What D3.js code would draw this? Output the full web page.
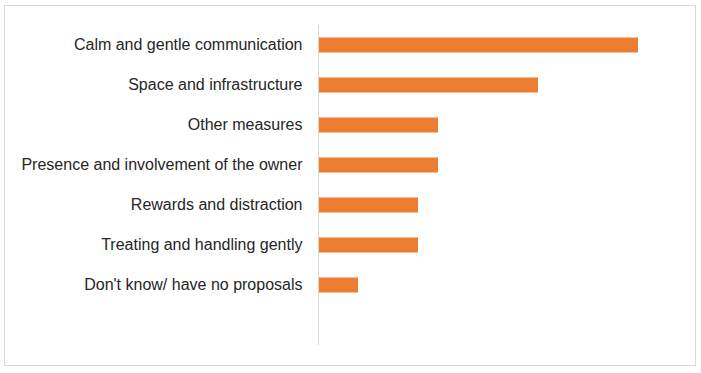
<!DOCTYPE html>
<html>
  <head>
    <script type="text/javascript" src="https://cdn.jsdelivr.net/npm/d3@7"></script>
    <style type="text/css">
      body { margin: 0; background: #ffffff; }
      text { font-family: "Liberation Sans", Arial, sans-serif; }
    </style>
  </head>
  <body>
    <script type="text/javascript">

      // categories, top to bottom
      var categories = ["Calm and gentle communication",
                        "Space and infrastructure",
                        "Other measures",
                        "Presence and involvement of the owner",
                        "Rewards and distraction",
                        "Treating and handling gently",
                        "Don't know/ have no proposals"];
      // bar lengths
      var values = [16, 11, 6, 6, 5, 5, 2];

      var width = 701;
      var height = 373;

      var pad = {top: 25, left: 318, bottom: 28};
      var step = 40;

      var svg = d3.select("body")
                  .append("svg")
                  .attr("width", width)
                  .attr("height", height);

      // outer chart border
      svg.append("rect")
         .attr("x", 4.5)
         .attr("y", 5.5)
         .attr("width", 691)
         .attr("height", 360)
         .attr("fill", "#ffffff")
         .attr("stroke", "#d9d9d9")
         .attr("stroke-width", 1);

      var xScale = d3.scaleLinear()
                     .domain([0, 16])
                     .range([pad.left, pad.left + 320]);

      // 7 bars in the top part, empty slot at the bottom like the original
      var yScale = d3.scaleBand()
                     .domain(categories)
                     .range([pad.top, pad.top + step * categories.length])
                     .paddingInner(0.625)
                     .paddingOuter(0.3125);

      svg.selectAll(".bar")
         .data(values)
         .enter()
         .append("rect")
         .attr("class", "bar")
         .attr("x", xScale(0))
         .attr("y", function(d, i){ return yScale(categories[i]); })
         .attr("width", function(d){ return xScale(d) - xScale(0); })
         .attr("height", yScale.bandwidth())
         .attr("fill", "#ed7d31");

      // category axis
      var yAxis = d3.axisLeft(yScale).tickSize(0).tickPadding(16);
      var gy = svg.append("g")
                  .attr("transform", "translate(" + (pad.left + 0.5) + ",0)")
                  .call(yAxis);
      gy.select(".domain").remove();
      gy.selectAll("text")
        .attr("fill", "#262626")
        .style("font-size", "16px")
        .style("font-family", "'Liberation Sans', Arial, sans-serif");

      // vertical axis line runs through the empty bottom slot
      svg.append("line")
         .attr("x1", pad.left + 0.5)
         .attr("x2", pad.left + 0.5)
         .attr("y1", pad.top)
         .attr("y2", pad.top + step * (categories.length + 1))
         .attr("stroke", "#d9d9d9")
         .attr("stroke-width", 1);
    </script>
  </body>
</html>
